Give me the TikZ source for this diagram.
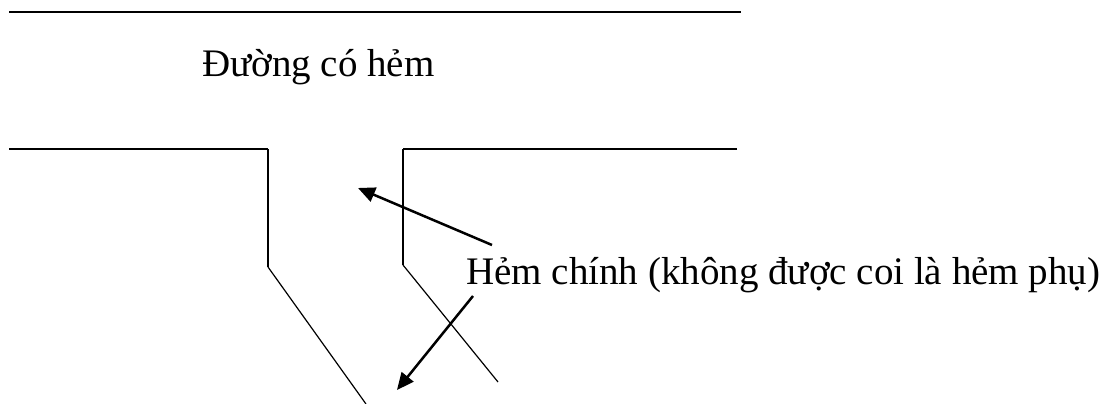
\documentclass[tikz,border=0pt]{standalone}
\usepackage{fontspec}
\setmainfont{Liberation Serif}
\usetikzlibrary{arrows.meta}
\begin{document}
\begin{tikzpicture}[x=1pt,y=-1pt,
  lbl/.style={inner sep=0pt,anchor=base west,font=\fontsize{39}{47}\selectfont},
  road/.style={line width=2pt},
  edge/.style={line width=1.9pt},
  alley/.style={line width=1.2pt},
  pointer/.style={line width=2.5pt,-{Triangle[length=17pt,width=15pt]}}]
\useasboundingbox (0,0) rectangle (1120,404);
% coordinates
\coordinate (t1) at (9,12);
\coordinate (t2) at (741,12);
\coordinate (l1) at (9,149);
\coordinate (l2) at (268,149);
\coordinate (l3) at (268,267);
\coordinate (l4) at (366,404);
\coordinate (r1) at (737,149);
\coordinate (r2) at (403,149);
\coordinate (r3) at (403,265);
\coordinate (r4) at (498,382);
\coordinate (a1s) at (492,245);
\coordinate (a1e) at (358,188);
\coordinate (a2s) at (473,296);
\coordinate (a2e) at (397,390);
% labels
\node[lbl] (title) at (202,77) {Đường có hẻm};
\node[lbl] (main) at (466,284) {Hẻm chính (không được coi là hẻm phụ)};
% lines
\draw[road] (t1) -- (t2);
\draw[road] (l1) -- (l2);
\draw[road] (r1) -- (r2);
\draw[edge] (l2) -- (l3);
\draw[edge] (r2) -- (r3);
\draw[alley] (l3) -- (l4);
\draw[alley] (r3) -- (r4);
% arrows
\draw[pointer] (a1s) -- (a1e);
\draw[pointer] (a2s) -- (a2e);
\end{tikzpicture}
\end{document}
